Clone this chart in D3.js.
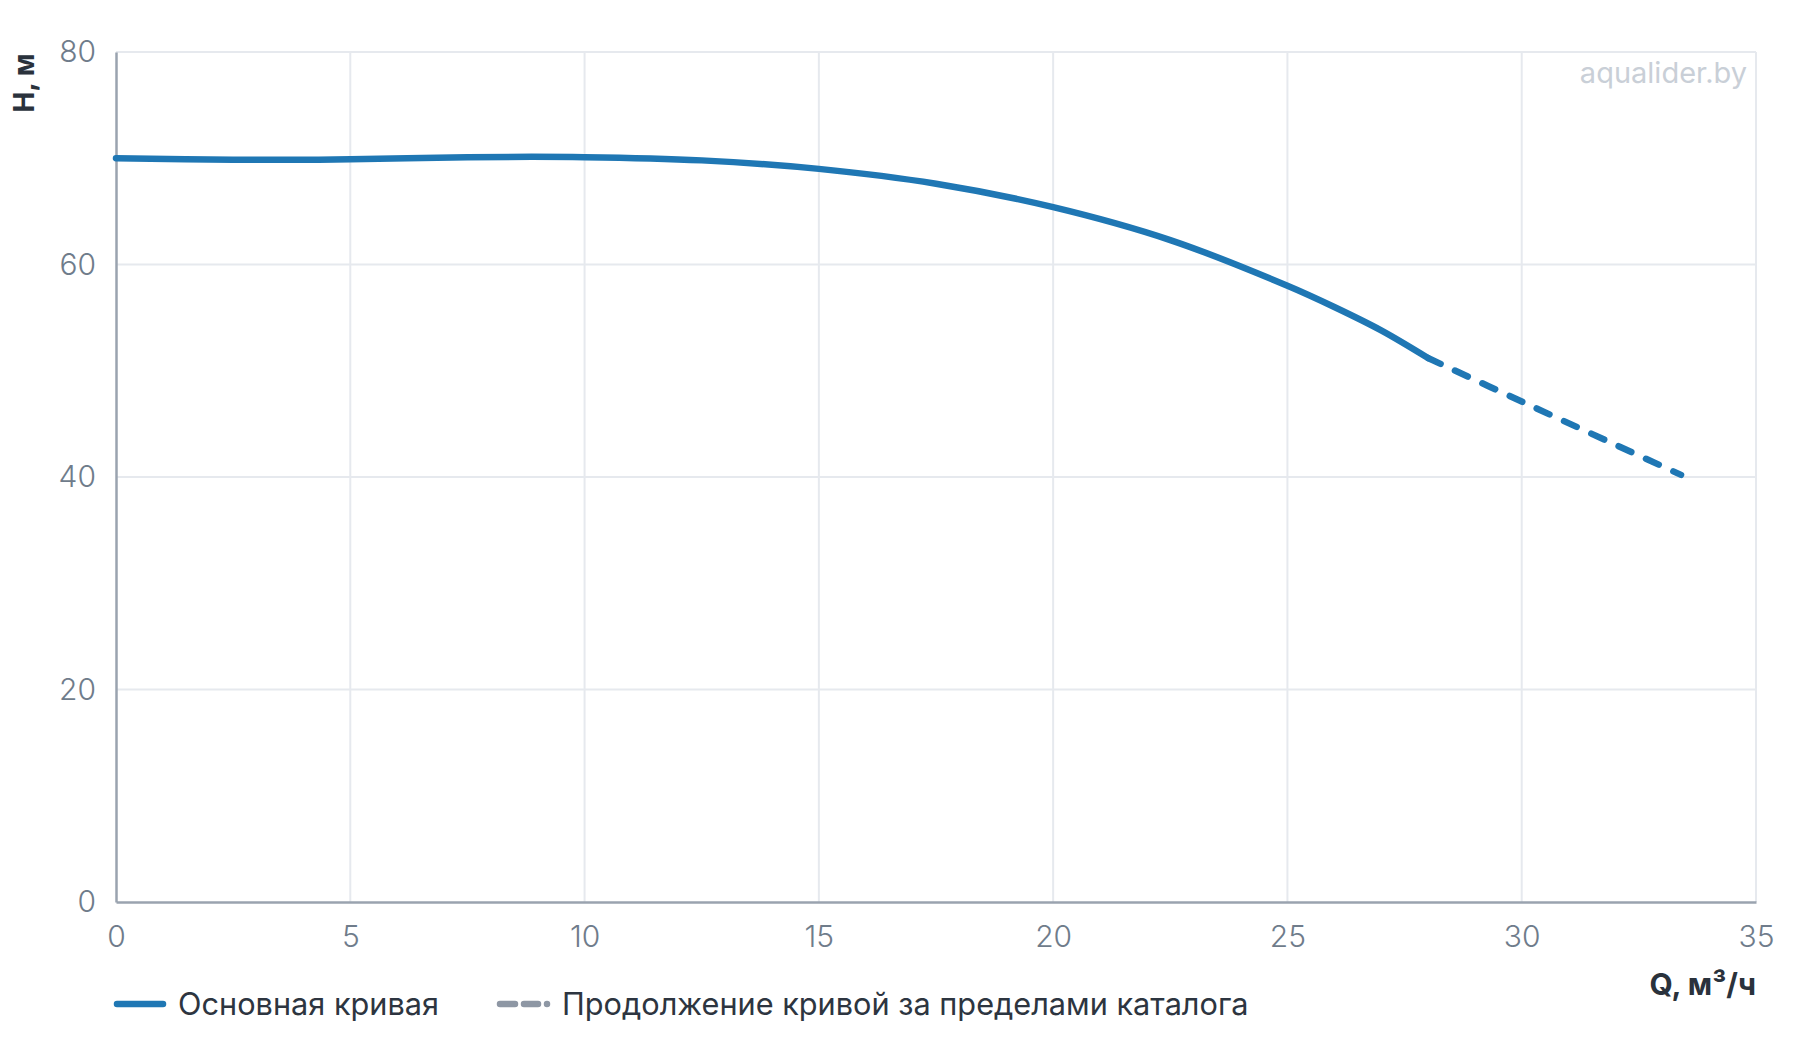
<!DOCTYPE html>
<html><head><meta charset="utf-8">
<script src="https://cdn.jsdelivr.net/npm/d3@7"></script>
<style>
html,body{margin:0;padding:0;background:#fff;}
svg{display:block;font-family:Inter,"Noto Sans",sans-serif;}
</style></head>
<body>
<svg id="chart" width="1800" height="1040"></svg>
<script>
// Data
const mainQ = [0, 2.5, 5, 7.5, 10, 12.5, 15, 17.5, 20, 22.5, 25, 26, 27, 28];
const mainH = [70.0, 69.85, 69.9, 70.1, 70.1, 69.8, 69.0, 67.6, 65.4, 62.3, 58.0, 56.0, 53.8, 51.2];
const extQ = [28, 30, 33.4];
const extH = [51.2, 47.1, 40.2];
const xTicks = [0, 5, 10, 15, 20, 25, 30, 35];
const yTicks = [0, 20, 40, 60, 80];
const xLabel = "Q, м³/ч";
const yLabel = "H, м";
const legendLabels = ["Основная кривая", "Продолжение кривой за пределами каталога"];
const watermark = "aqualider.by";

const svg = d3.select("#chart");
const L = 116, R = 1756, T = 52, B = 902;
const x = d3.scaleLinear().domain([0, 35]).range([L, R]);
const y = d3.scaleLinear().domain([0, 80]).range([B, T]);

const gridColor = "#e6e9ee", axisColor = "#9aa3af", tickColor = "#6f7c8b";

// grid
svg.append("g").selectAll("line").data(xTicks.filter(d => d > 0)).join("line")
  .attr("x1", d => x(d)).attr("x2", d => x(d)).attr("y1", T).attr("y2", B)
  .attr("stroke", gridColor).attr("stroke-width", 2);
svg.append("g").selectAll("line").data(yTicks.filter(d => d > 0)).join("line")
  .attr("x1", L).attr("x2", R).attr("y1", d => y(d)).attr("y2", d => y(d))
  .attr("stroke", gridColor).attr("stroke-width", 2);

// axes
const xAxis = svg.append("g").attr("transform", `translate(0,${B})`)
  .call(d3.axisBottom(x).tickValues(xTicks).tickSize(0).tickPadding(24));
xAxis.select(".domain").attr("stroke", axisColor).attr("stroke-width", 2.5);
xAxis.selectAll("text").attr("fill", tickColor).attr("font-size", 30).attr("font-family", "Inter").attr("font-weight", 300);

const yAxis = svg.append("g").attr("transform", `translate(${L},0)`)
  .call(d3.axisLeft(y).tickValues(yTicks).tickSize(0).tickPadding(20));
yAxis.select(".domain").attr("stroke", axisColor).attr("stroke-width", 2.5);
yAxis.selectAll("text").attr("fill", tickColor).attr("font-size", 30).attr("font-family", "Inter").attr("font-weight", 300);

// axis labels
svg.append("text").attr("transform", "translate(34,83) rotate(-90)")
  .attr("text-anchor", "middle").attr("font-size", 28).attr("font-weight", 700)
  .attr("fill", "#2a323c").text(yLabel);
svg.append("text").attr("x", R).attr("y", 995).attr("text-anchor", "end")
  .attr("font-size", 30).attr("font-weight", 700).attr("fill", "#2a323c").text(xLabel);

// watermark
svg.append("text").attr("x", 1747).attr("y", 83).attr("text-anchor", "end")
  .attr("font-size", 29).attr("font-weight", 400).attr("fill", "#c9cfd7").text(watermark);

// curves
const line = d3.line().x(d => x(d[0])).y(d => y(d[1])).curve(d3.curveCatmullRom.alpha(0.5));
const mainData = mainQ.map((q, i) => [q, mainH[i]]);
const extData = extQ.map((q, i) => [q, extH[i]]);
const blue = "#1f77b4";
svg.append("path").datum(extData).attr("d", line).attr("fill", "none")
  .attr("stroke", blue).attr("stroke-width", 6.5).attr("stroke-linecap", "round")
  .attr("stroke-dasharray", "14,16");
svg.append("path").datum(mainData).attr("d", line).attr("fill", "none")
  .attr("stroke", blue).attr("stroke-width", 6.5).attr("stroke-linecap", "round");

// legend
const lg = svg.append("g");
lg.append("line").attr("x1", 117).attr("x2", 163).attr("y1", 1004).attr("y2", 1004)
  .attr("stroke", blue).attr("stroke-width", 6.5).attr("stroke-linecap", "round");
lg.append("text").attr("x", 178).attr("y", 1015).attr("font-size", 30.7)
  .attr("fill", "#2d3540").text(legendLabels[0]);
lg.append("line").attr("x1", 500).attr("x2", 548).attr("y1", 1004).attr("y2", 1004)
  .attr("stroke", "#8e97a4").attr("stroke-width", 6.5).attr("stroke-linecap", "round")
  .attr("stroke-dasharray", "15,9,14,9,0,100");
lg.append("text").attr("x", 562).attr("y", 1015).attr("font-size", 30.7)
  .attr("fill", "#2d3540").text(legendLabels[1]);
</script>
</body></html>
